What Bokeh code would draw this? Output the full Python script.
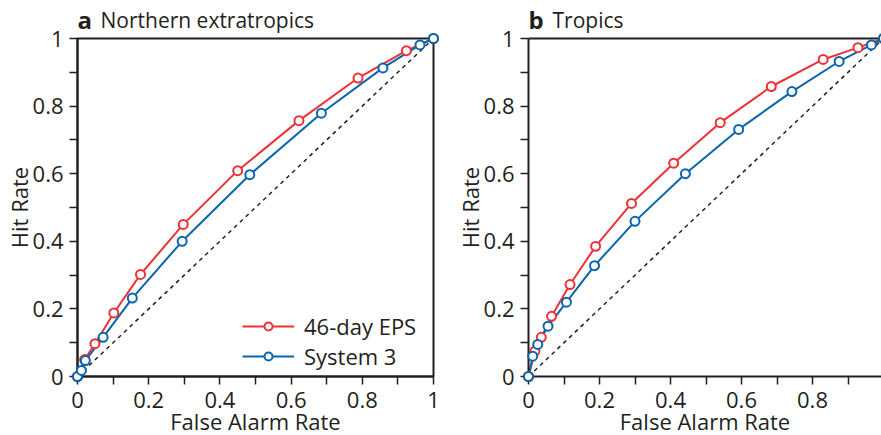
from bokeh.plotting import figure
from bokeh.layouts import row
from bokeh.models import Range1d, FixedTicker, Legend, LegendItem, LinearAxis
from bokeh.core.properties import value
from bokeh.embed import file_html
from bokeh.resources import INLINE

# ---------------- data ----------------
TICKS = [0.0, 0.2, 0.4, 0.6, 0.8, 1.0]
MINOR_TICKS = [0.1, 0.3, 0.5, 0.7, 0.9]
TICK_LABELS = ["0", "0.2", "0.4", "0.6", "0.8", "1"]

SERIES_NAMES = ["46-day EPS", "System 3"]
PANEL_LETTERS = ["a", "b"]
PANEL_TITLES = ["Northern extratropics", "Tropics"]

NH_EPS_FAR = [0.0, 0.020, 0.049, 0.102, 0.177, 0.297, 0.450, 0.622, 0.788, 0.924, 1.0]
NH_EPS_HR = [0.0, 0.050, 0.097, 0.188, 0.302, 0.450, 0.609, 0.757, 0.883, 0.964, 1.0]
NH_S3_FAR = [0.0, 0.011, 0.022, 0.072, 0.154, 0.294, 0.484, 0.685, 0.858, 0.962, 1.0]
NH_S3_HR = [0.0, 0.018, 0.047, 0.116, 0.232, 0.400, 0.597, 0.779, 0.913, 0.981, 1.0]

TR_EPS_FAR = [0.0, 0.018, 0.036, 0.065, 0.117, 0.189, 0.290, 0.409, 0.540, 0.684, 0.830, 0.928, 1.0]
TR_EPS_HR = [0.0, 0.075, 0.116, 0.178, 0.272, 0.385, 0.512, 0.631, 0.751, 0.858, 0.938, 0.973, 1.0]
TR_S3_FAR = [0.0, 0.012, 0.026, 0.055, 0.107, 0.186, 0.300, 0.442, 0.592, 0.742, 0.875, 0.966, 1.0]
TR_S3_HR = [0.0, 0.060, 0.095, 0.149, 0.220, 0.328, 0.459, 0.600, 0.731, 0.843, 0.932, 0.981, 1.0]

DIAG = [0.0, 1.0]

# ---------------- style ----------------
FONT = "Open Sans"
TXT = "#231f20"
RED = "#ec3237"
BLUE = "#0a64ae"
FS = "22px"


def style_axis(ax):
    ax.ticker = FixedTicker(ticks=TICKS, minor_ticks=MINOR_TICKS)
    ax.major_label_overrides = dict(zip(TICKS, TICK_LABELS))
    ax.major_tick_out = 8
    ax.major_tick_in = 0
    ax.minor_tick_out = 8
    ax.minor_tick_in = 0
    ax.axis_line_width = 2
    ax.axis_line_color = TXT
    ax.major_tick_line_color = TXT
    ax.minor_tick_line_color = TXT
    ax.major_tick_line_width = 1.5
    ax.minor_tick_line_width = 1.5
    ax.major_label_text_font = FONT
    ax.major_label_text_font_size = FS
    ax.major_label_text_color = TXT
    ax.axis_label_text_font = FONT
    ax.axis_label_text_font_size = FS
    ax.axis_label_text_font_style = "normal"
    ax.axis_label_text_color = TXT


def make_panel(letter, title, title_dx, x_end, frame_w, border_right,
               eps_x, eps_y, s3_x, s3_y, legend):
    p = figure(frame_width=frame_w, frame_height=338,
               x_range=Range1d(0, x_end), y_range=Range1d(0, 1),
               output_backend="svg", toolbar_location=None,
               min_border_left=77, min_border_right=border_right,
               min_border_top=38, min_border_bottom=55)
    p.grid.visible = False
    p.background_fill_color = "white"
    p.border_fill_color = "white"

    p.xaxis.axis_label = "False Alarm Rate"
    p.yaxis.axis_label = "Hit Rate"
    for ax in p.xaxis:
        style_axis(ax)
        ax.major_label_standoff = 7
        ax.axis_label_standoff = -5
    for ax in p.yaxis:
        style_axis(ax)
        ax.major_label_standoff = 6
        ax.axis_label_standoff = -4

    p.line(DIAG, DIAG, line_color=TXT, line_width=1.5, line_dash="4 4")

    r1 = p.line(eps_x, eps_y, line_color=RED, line_width=2)
    r1s = p.scatter(eps_x, eps_y, marker="circle", size=9, fill_color="white",
                    line_color=RED, line_width=2, level="overlay")
    r2 = p.line(s3_x, s3_y, line_color=BLUE, line_width=2)
    r2s = p.scatter(s3_x, s3_y, marker="circle", size=9, fill_color="white",
                    line_color=BLUE, line_width=2, level="overlay")

    # panel heading, anchored at the top-left corner of the frame
    p.text(x=[0], y=[1], text=[letter], y_offset=-19,
           text_font=value(FONT), text_font_style="bold", text_font_size="24px",
           text_color=TXT, text_baseline="alphabetic", text_align="left",
           level="overlay")
    p.text(x=[0], y=[1], text=[title], x_offset=title_dx, y_offset=-19,
           text_font=value(FONT), text_font_size="21px",
           text_color=TXT, text_baseline="alphabetic", text_align="left",
           level="overlay")

    if legend:
        lg = Legend(items=[LegendItem(label=SERIES_NAMES[0], renderers=[r1, r1s]),
                           LegendItem(label=SERIES_NAMES[1], renderers=[r2, r2s])],
                    location=(165, 5), padding=0, margin=0, spacing=-7,
                    glyph_width=52, glyph_height=20, label_standoff=10,
                    label_text_font=FONT, label_text_font_size=FS,
                    label_text_color=TXT, border_line_color=None,
                    background_fill_alpha=0)
        p.add_layout(lg, "center")
    return p


left = make_panel(PANEL_LETTERS[0], PANEL_TITLES[0], 23, 1.0, 356, 18,
                  NH_EPS_FAR, NH_EPS_HR, NH_S3_FAR, NH_S3_HR, True)
left.outline_line_color = TXT
left.outline_line_width = 2
left.outline_line_alpha = 1

right = make_panel(PANEL_LETTERS[1], PANEL_TITLES[1], 24, 353 / 355, 353, 0,
                   TR_EPS_FAR, TR_EPS_HR, TR_S3_FAR, TR_S3_HR, False)
right.outline_line_color = None
top_axis = LinearAxis(ticker=FixedTicker(ticks=[]), major_label_text_font_size="0px",
                      axis_line_width=2, axis_line_color=TXT,
                      major_tick_line_color=None, minor_tick_line_color=None)
right.add_layout(top_axis, "above")

page = row(left, right)
open("out.html", "w").write(file_html(page, INLINE))
